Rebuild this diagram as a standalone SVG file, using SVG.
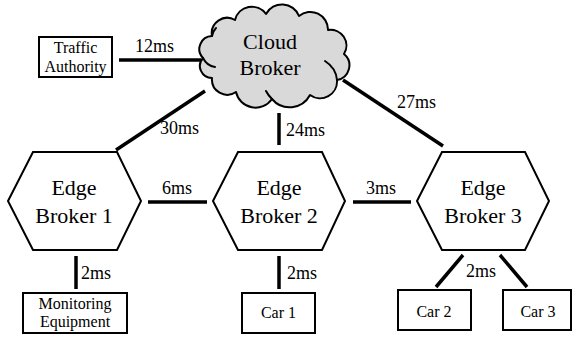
<svg xmlns="http://www.w3.org/2000/svg" width="573" height="337" viewBox="0 0 573 337">
  <style>
    .node { fill: #ffffff; stroke: #000000; stroke-width: 2; stroke-linejoin: miter; }
    .cloud { fill: #d9d9d9; stroke: #000000; stroke-width: 2; stroke-linejoin: round; }
    .detail { fill: none; stroke: #000000; stroke-width: 2; stroke-linecap: round; }
    .link { stroke: #000000; stroke-width: 3.5; fill: none; }
    .big { font-size: 22px; text-anchor: middle; }
    .small { font-size: 16px; text-anchor: middle; }
    .lat { font-size: 18px; }
  </style>

  <g font-family="Liberation Serif, Tinos, Times New Roman, DejaVu Serif, serif" fill="#000000">
  <!-- links between brokers and devices -->
  <g id="connectors">
    <line class="link" x1="119" y1="60" x2="201" y2="60"/>
    <line class="link" x1="205" y1="91" x2="116" y2="150"/>
    <line class="link" x1="279" y1="113" x2="279" y2="145"/>
    <line class="link" x1="343" y1="80" x2="443" y2="146"/>
    <line class="link" x1="148" y1="202" x2="207" y2="202"/>
    <line class="link" x1="353" y1="202" x2="411" y2="202"/>
    <line class="link" x1="76" y1="256" x2="76" y2="289"/>
    <line class="link" x1="279" y1="256" x2="279" y2="289"/>
    <line class="link" x1="463" y1="255" x2="436" y2="287"/>
    <line class="link" x1="500" y1="255" x2="527" y2="287"/>
    <text class="lat" x="135" y="52">12ms</text>
    <text class="lat" x="160" y="134">30ms</text>
    <text class="lat" x="286" y="136">24ms</text>
    <text class="lat" x="397" y="108">27ms</text>
    <text class="lat" x="162" y="194">6ms</text>
    <text class="lat" x="366" y="194">3ms</text>
    <text class="lat" x="81" y="279">2ms</text>
    <text class="lat" x="287" y="279">2ms</text>
    <text class="lat" x="466" y="277">2ms</text>
  </g>

  <g id="cloud-broker">
    <path class="cloud" d="M203,58
      A13,13 0 0 1 212,36
      A15.4,15.4 0 0 1 235,20
      A17.4,17.4 0 0 1 266,14
      A18.2,18.2 0 0 1 299,16
      A17.7,17.7 0 0 1 328,30
      A15.8,15.8 0 0 1 344,54
      A14.8,14.8 0 0 1 337,80
      A17,17 0 0 1 310,95
      A23,23 0 0 1 272,99
      A20,20 0 0 1 236,92
      A15.3,15.3 0 0 1 212,78
      A12,12 0 0 1 203,58 Z"/>
    <path class="detail" d="M203,58 Q207,66 215,67"/>
    <path class="detail" d="M337,80 Q336,68 325,61"/>
    <path class="detail" d="M272,99 Q268,95 266,91"/>
    <path class="detail" d="M212,36 Q213,31 216,28"/>
    <text class="big" x="270" y="49">Cloud</text>
    <text class="big" x="270" y="75">Broker</text>
  </g>

  <g id="traffic-authority">
    <rect class="node" x="39" y="37" width="73" height="40"/>
    <text class="small" x="75.5" y="53">Traffic</text>
    <text class="small" x="75.5" y="72">Authority</text>
  </g>

  <g id="edge-broker-1">
    <polygon class="node" points="8,201 33,152 117,152 141,201 117,250 33,250"/>
    <text class="big" x="74" y="195">Edge</text>
    <text class="big" x="74" y="223">Broker 1</text>
  </g>

  <g id="edge-broker-2">
    <polygon class="node" points="213,201 238,152 322,152 345,201 322,250 238,250"/>
    <text class="big" x="279" y="195">Edge</text>
    <text class="big" x="279" y="223">Broker 2</text>
  </g>

  <g id="edge-broker-3">
    <polygon class="node" points="417,201 442,152 525,152 549,201 525,250 442,250"/>
    <text class="big" x="483" y="195">Edge</text>
    <text class="big" x="483" y="223">Broker 3</text>
  </g>

  <g id="monitoring-equipment">
    <rect class="node" x="23" y="293" width="104" height="40"/>
    <text class="small" x="75" y="309">Monitoring</text>
    <text class="small" x="75" y="327">Equipment</text>
  </g>

  <g id="car-1">
    <rect class="node" x="242" y="293" width="73" height="40"/>
    <text class="small" x="278.5" y="318">Car 1</text>
  </g>

  <g id="car-2">
    <rect class="node" x="398" y="290" width="73" height="40"/>
    <text class="small" x="434" y="317">Car 2</text>
  </g>

  <g id="car-3">
    <rect class="node" x="503" y="290" width="68" height="40"/>
    <text class="small" x="538" y="317">Car 3</text>
  </g>
  </g>
</svg>
